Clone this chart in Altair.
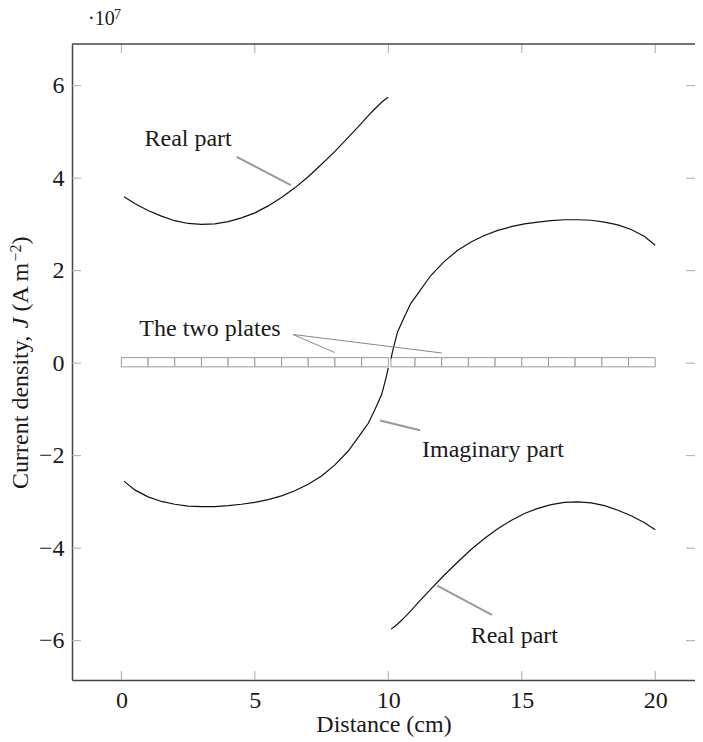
import altair as alt
import pandas as pd

# ---------------- data ----------------
X1 = [0.1, 0.5, 1.0, 1.5, 2.0, 2.5, 3.0, 3.5, 4.0, 4.5, 5.0, 5.5, 6.0, 6.5,
      7.0, 7.5, 8.0, 8.5, 9.0, 9.25, 9.5, 9.75, 9.9, 10.0]
REAL1 = [3.60, 3.45, 3.30, 3.18, 3.08, 3.02, 3.00, 3.01, 3.06, 3.14, 3.25, 3.40,
         3.58, 3.79, 4.03, 4.30, 4.58, 4.88, 5.19, 5.35, 5.50, 5.64, 5.71, 5.75]
IMAG1 = [-2.55, -2.74, -2.89, -2.99, -3.05, -3.09, -3.10, -3.10, -3.08, -3.05,
         -3.01, -2.95, -2.87, -2.76, -2.62, -2.44, -2.20, -1.90, -1.50, -1.30,
         -1.00, -0.68, -0.35, -0.10]

X2 = [10.1, 10.2, 10.35, 10.6, 10.85, 11.1, 11.6, 12.1, 12.6, 13.1, 13.6, 14.1,
      14.6, 15.1, 15.6, 16.1, 16.6, 17.1, 17.6, 18.1, 18.6, 19.1, 19.6, 20.0]
REAL2 = [-5.75, -5.71, -5.64, -5.50, -5.35, -5.19, -4.88, -4.58, -4.30, -4.03,
         -3.79, -3.58, -3.40, -3.25, -3.14, -3.06, -3.01, -3.00, -3.02, -3.08,
         -3.18, -3.30, -3.45, -3.60]
IMAG2 = [0.10, 0.35, 0.68, 1.00, 1.30, 1.50, 1.90, 2.20, 2.44, 2.62, 2.76, 2.87,
         2.95, 3.01, 3.05, 3.08, 3.10, 3.10, 3.09, 3.05, 2.99, 2.89, 2.74, 2.55]

PLATE1_EDGES = [0, 1, 2, 3, 4, 5, 6, 7, 8, 9, 10]
PLATE2_EDGES = [10.1, 11, 12, 13, 14, 15, 16, 17, 18, 19, 20]
PLATE_BOTTOM = -0.08
PLATE_TOP = 0.12

LABELS = ["Real part", "Imaginary part", "Real part", "The two plates"]
LABEL_X = [2.5, 13.92, 14.72, 3.32]
LABEL_Y = [4.69, -2.02, -6.05, 0.58]

POINTER_X = [4.32, 9.69, 11.83]
POINTER_Y = [4.46, -1.24, -4.81]
POINTER_X2 = [6.35, 11.19, 13.88]
POINTER_Y2 = [3.85, -1.45, -5.44]

PLATE_PTR_X = [6.43, 6.43]
PLATE_PTR_Y = [0.62, 0.62]
PLATE_PTR_X2 = [7.99, 12.0]
PLATE_PTR_Y2 = [0.23, 0.22]

X_TICKS = [0, 5, 10, 15, 20]
Y_TICKS = [-6, -4, -2, 0, 2, 4, 6]

# ---------------- styling ----------------
FONT = "Liberation Serif"
TXT = "#1a1a1a"
W, H = 623, 636
XDOM = [-1.85, 21.49]
YDOM = [-6.85, 6.90]

xs = alt.Scale(domain=XDOM, nice=False, zero=False)
ys = alt.Scale(domain=YDOM, nice=False, zero=False)
xaxis = alt.Axis(values=X_TICKS, tickSize=0, labelFont=FONT, labelFontSize=24,
                 labelColor=TXT, labelPadding=8, domainColor="#444", domainWidth=1.5,
                 grid=False, title="Distance (cm)", titleFont=FONT, titleFontSize=24,
                 titleFontWeight="normal", titleColor=TXT, titleBaseline="alphabetic",
                 titleY=51, format="d")
yaxis = alt.Axis(values=Y_TICKS, tickSize=0, labelFont=FONT, labelFontSize=24,
                 labelColor=TXT, labelPadding=8, domainColor="#444", domainWidth=1.5,
                 grid=False, title=None, format="d")


def X(f="x"):
    return alt.X(f"{f}:Q", scale=xs, axis=xaxis)


def Y(f="y"):
    return alt.Y(f"{f}:Q", scale=ys, axis=yaxis)


# curves
rows = []
for seg, xx, yy in [("r1", X1, REAL1), ("i1", X1, IMAG1), ("r2", X2, REAL2), ("i2", X2, IMAG2)]:
    for a, b in zip(xx, yy):
        rows.append({"x": a, "y": b, "seg": seg})
curves_df = pd.DataFrame(rows)
curves = alt.Chart(curves_df).mark_line(color="#111", strokeWidth=1.2).encode(
    x=X(), y=Y(), detail="seg:N")

# plates
cells = []
for edges in (PLATE1_EDGES, PLATE2_EDGES):
    for a, b in zip(edges[:-1], edges[1:]):
        cells.append({"x": a, "x2": b, "y": PLATE_BOTTOM, "y2": PLATE_TOP})
plates = alt.Chart(pd.DataFrame(cells)).mark_rect(
    fill="white", stroke="#999", strokeWidth=1).encode(
    x=X(), x2="x2:Q", y=Y(), y2="y2:Q")

# pointer lines
ptr = alt.Chart(pd.DataFrame({"x": POINTER_X, "y": POINTER_Y, "x2": POINTER_X2, "y2": POINTER_Y2})
                ).mark_rule(color="#999", strokeWidth=2).encode(x=X(), y=Y(), x2="x2:Q", y2="y2:Q")
pptr = alt.Chart(pd.DataFrame({"x": PLATE_PTR_X, "y": PLATE_PTR_Y, "x2": PLATE_PTR_X2, "y2": PLATE_PTR_Y2})
                 ).mark_rule(color="#888", strokeWidth=1).encode(x=X(), y=Y(), x2="x2:Q", y2="y2:Q")

# annotation text
labels = alt.Chart(pd.DataFrame({"x": LABEL_X, "y": LABEL_Y, "t": LABELS})).mark_text(
    font=FONT, fontSize=24, color=TXT, align="center", baseline="alphabetic").encode(
    x=X(), y=Y(), text="t:N")

# inward ticks
TICK = 9
xt = pd.DataFrame({"x": X_TICKS})
yt = pd.DataFrame({"y": Y_TICKS})
tick_style = dict(color="#aaa", strokeWidth=1)
tb = alt.Chart(xt).mark_rule(**tick_style).encode(x=X(), y=alt.value(H), y2=alt.value(H - TICK))
tt = alt.Chart(xt).mark_rule(**tick_style).encode(x=X(), y=alt.value(0), y2=alt.value(TICK))
tl = alt.Chart(yt).mark_rule(**tick_style).encode(y=Y(), x=alt.value(0), x2=alt.value(TICK))
tr = alt.Chart(yt).mark_rule(**tick_style).encode(y=Y(), x=alt.value(W - TICK), x2=alt.value(W))

one = pd.DataFrame({"a": [0]})
top_border = alt.Chart(one).mark_rule(color="#444", strokeWidth=1.5).encode(
    x=alt.value(0), x2=alt.value(W), y=alt.value(0))


def txt(s, x, y, size=24, style="normal", angle=0):
    return alt.Chart(one).mark_text(text=s, font=FONT, fontSize=size, fontStyle=style,
                                    angle=angle, align="left", baseline="alphabetic",
                                    color=TXT).encode(x=alt.value(x), y=alt.value(y))


# exponent marker
exp_a = txt("·10", 16, -18.6, size=20)
exp_b = txt("7", 42, -25, size=14)

# y-axis title pieces (rotated)
TX = -44
yt1 = txt("Current density,", TX, 444.9, angle=270)
yt2 = txt("J", TX, 284.2, style="italic", angle=270)
yt3 = txt("(A m", TX, 267.5, angle=270)
yt4 = txt("−2", TX - 7, 217.5, size=16, angle=270)
yt5 = txt(")", TX, 200.5, angle=270)

chart = alt.layer(
    plates, curves, ptr, pptr, labels, tb, tt, tl, tr, top_border,
    exp_a, exp_b, yt1, yt2, yt3, yt4, yt5
).properties(
    width=W, height=H,
    autosize=alt.AutoSizeParams(type="none"),
    padding={"left": 64, "top": 36, "right": 0, "bottom": 57},
).configure_view(stroke=None)

chart.save("out.html", embed_options={"renderer": "svg", "actions": False})
